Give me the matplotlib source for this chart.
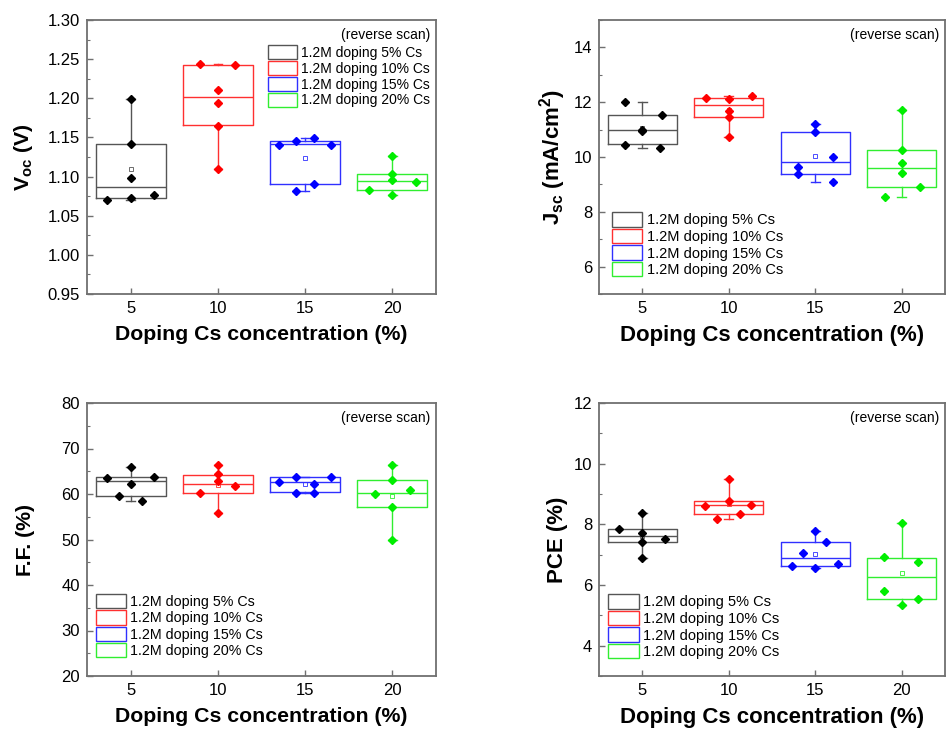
import numpy as np
import matplotlib
matplotlib.use("Agg")
import matplotlib.pyplot as plt
from matplotlib.patches import Patch
from matplotlib.ticker import MultipleLocator, FormatStrFormatter

plt.rcParams['font.family'] = ['Liberation Sans', 'DejaVu Sans']
plt.rcParams['mathtext.fontset'] = 'custom'
plt.rcParams['mathtext.rm'] = 'Liberation Sans'
plt.rcParams['mathtext.bf'] = 'Liberation Sans:bold'
plt.rcParams['mathtext.default'] = 'bf'

# ---------------- data ----------------
concentrations = [5, 10, 15, 20]
legend_labels = ['1.2M doping 5% Cs', '1.2M doping 10% Cs',
                 '1.2M doping 15% Cs', '1.2M doping 20% Cs']
group_colors = ['#000000', '#ff0000', '#0000ff', '#00ee00']
box_colors = ['#555555', '#ff3030', '#3030ff', '#30ee30']

# Voc (V)
voc_black = [1.070, 1.072, 1.077, 1.098, 1.141, 1.199]
voc_red = [1.244, 1.242, 1.210, 1.194, 1.165, 1.110]
voc_blue = [1.140, 1.145, 1.149, 1.140, 1.091, 1.081]
voc_green = [1.126, 1.103, 1.095, 1.093, 1.083, 1.076]
voc_dx = [[-1.34, 0, 1.34, 0, 0, 0], [-1.0, 1.0, 0, 0, 0, 0],
          [-1.5, -0.5, 0.5, 1.5, 0.5, -0.5], [0, 0, 0, 1.34, -1.32, 0]]
voc_q1 = [1.072, 1.166, 1.091, 1.083]
voc_med = [1.087, 1.202, 1.141, 1.094]
voc_q3 = [1.141, 1.242, 1.146, 1.103]

# Jsc (mA/cm2)
jsc_black = [12.00, 11.54, 10.99, 10.96, 10.45, 10.33]
jsc_red = [12.17, 12.13, 12.23, 11.69, 11.46, 10.72]
jsc_blue = [11.20, 10.91, 10.01, 9.62, 9.37, 9.10]
jsc_green = [11.72, 10.24, 9.78, 9.43, 8.91, 8.53]
jsc_dx = [[-0.97, 1.13, 0, 0, -0.97, 1.03], [-1.3, 0, 1.34, 0, 0, 0],
          [0, 0, 1.03, -1.0, -1.0, 1.03], [0, 0, 0, 0, 1.07, -0.95]]
jsc_q1 = [10.46, 11.46, 9.38, 8.92]
jsc_med = [10.99, 11.89, 9.82, 9.61]
jsc_q3 = [11.54, 12.17, 10.91, 10.24]

# FF (%)
ff_black = [63.5, 66.0, 63.8, 62.1, 59.5, 58.4]
ff_red = [66.4, 64.3, 62.9, 60.3, 61.7, 55.9]
ff_blue = [62.6, 63.8, 62.3, 63.8, 60.3, 60.3]
ff_green = [66.4, 63.0, 60.8, 59.9, 57.1, 50.0]
ff_dx = [[-1.35, 0, 1.35, 0, -0.67, 0.63], [0, 0, 0, -1.0, 1.0, 0],
         [-1.52, -0.52, 0.5, 1.5, -0.52, 0.5], [0, 0, 1.02, -1.0, 0, 0]]
ff_q1 = [59.5, 60.3, 60.4, 57.1]
ff_med = [62.8, 62.3, 62.6, 60.3]
ff_q3 = [63.8, 64.1, 63.7, 63.0]

# PCE (%)
pce_black = [7.83, 8.37, 7.71, 7.52, 7.43, 6.89]
pce_red = [9.49, 8.61, 8.77, 8.63, 8.34, 8.19]
pce_blue = [7.79, 7.42, 7.05, 6.70, 6.62, 6.55]
pce_green = [8.05, 6.91, 6.76, 5.80, 5.54, 5.33]
pce_dx = [[-1.34, 0, 0, 1.34, 0, 0], [0, -1.35, 0, 1.3, 0.63, -0.69],
          [0, 0.61, -0.71, 1.3, -1.37, 0], [0, -1.03, 0.92, -1.03, 0.92, 0]]
pce_q1 = [7.43, 8.35, 6.61, 5.55]
pce_med = [7.62, 8.63, 6.88, 6.28]
pce_q3 = [7.84, 8.76, 7.42, 6.90]

# ---------------- figure ----------------
W, H = 948, 733
fig = plt.figure(figsize=(W / 100, H / 100), dpi=100)

def rect(l, t, r, b):
    return [l / W, 1 - b / H, (r - l) / W, (b - t) / H]

SPINE = '#707070'

panels = [
    dict(rect=rect(87, 20, 436, 294), vals=[voc_black, voc_red, voc_blue, voc_green], dx=voc_dx,
         q1=voc_q1, med=voc_med, q3=voc_q3, ylim=(0.95, 1.30), major=0.05, minor=0.025,
         fmt='%.2f', ylabel='V$_{oc}$ (V)', ylx=-0.148, leg=(0.519, 0.909), fs=15.3, lfs=10),
    dict(rect=rect(599, 20, 945, 294), vals=[jsc_black, jsc_red, jsc_blue, jsc_green], dx=jsc_dx,
         q1=jsc_q1, med=jsc_med, q3=jsc_q3, ylim=(5, 15), major=2, minor=1,
         fmt='%d', ylabel='J$_{sc}$ (mA/cm$^{2}$)', ylx=-0.09, leg=(0.037, 0.299), fs=16, lfs=10.5),
    dict(rect=rect(87, 403, 436, 676), vals=[ff_black, ff_red, ff_blue, ff_green], dx=ff_dx,
         q1=ff_q1, med=ff_med, q3=ff_q3, ylim=(20, 80), major=10, minor=5,
         fmt='%d', ylabel='F.F. (%)', ylx=-0.148, leg=(0.026, 0.300), fs=15.3, lfs=10.3),
    dict(rect=rect(599, 403, 945, 676), vals=[pce_black, pce_red, pce_blue, pce_green], dx=pce_dx,
         q1=pce_q1, med=pce_med, q3=pce_q3, ylim=(3, 12), major=2, minor=1,
         fmt='%d', ylabel='PCE (%)', ylx=-0.09, leg=(0.026, 0.300), fs=16, lfs=10.5),
]

for p in panels:
    ax = fig.add_axes(p['rect'])
    for i, c in enumerate(concentrations):
        v = p['vals'][i]
        col = box_colors[i]
        st = dict(med=p['med'][i], q1=p['q1'][i], q3=p['q3'][i],
                  whislo=min(v), whishi=max(v), mean=float(np.mean(v)), fliers=[])
        lp = dict(color=col, linewidth=1.0)
        ax.bxp([st], positions=[c], widths=4.0, showmeans=True, showcaps=True,
               capwidths=0.5, showfliers=False,
               boxprops=lp, whiskerprops=lp, capprops=lp, medianprops=lp,
               meanprops=dict(marker='s', markerfacecolor='none', markeredgecolor=col,
                              markersize=3, markeredgewidth=0.6),
               manage_ticks=False, zorder=2)
        ax.plot(np.array(c) + np.array(p['dx'][i]), v, 'D', color=group_colors[i],
                markersize=4.3, linestyle='none', zorder=3)
    ax.set_xlim(2.5, 22.5)
    ax.set_ylim(*p['ylim'])
    ax.set_xticks(concentrations)
    ax.yaxis.set_major_locator(MultipleLocator(p['major']))
    ax.yaxis.set_minor_locator(MultipleLocator(p['minor']))
    ax.yaxis.set_major_formatter(FormatStrFormatter(p['fmt']))
    ax.tick_params(axis='both', which='major', direction='in', length=4, width=1.0,
                   color=SPINE, labelsize=12, pad=5, top=False, right=False)
    ax.tick_params(axis='y', which='minor', direction='in', length=2.5, width=0.8,
                   color=SPINE, right=False)
    ax.tick_params(axis='x', which='minor', bottom=False)
    for s in ax.spines.values():
        s.set_color(SPINE)
        s.set_linewidth(1.3)
    ax.set_xlabel('Doping Cs concentration (%)', fontsize=p['fs'], fontweight='bold')
    ax.xaxis.set_label_coords(0.5, -0.112)
    ax.set_ylabel(p['ylabel'], fontsize=p['fs'], fontweight='bold')
    ax.yaxis.set_label_coords(p['ylx'], 0.5)
    ax.text(0.983, 0.945, '(reverse scan)', transform=ax.transAxes, ha='right',
            va='center', fontsize=10)
    handles = [Patch(facecolor='white', edgecolor=box_colors[i], linewidth=1.0,
                     label=legend_labels[i]) for i in range(4)]
    ax.legend(handles=handles, loc='upper left', bbox_to_anchor=p['leg'], frameon=False,
              fontsize=p['lfs'], borderpad=0, borderaxespad=0, handlelength=2.1,
              handleheight=1.15, labelspacing=0.1, handletextpad=0.3)

fig.savefig('out.png', dpi=100)
